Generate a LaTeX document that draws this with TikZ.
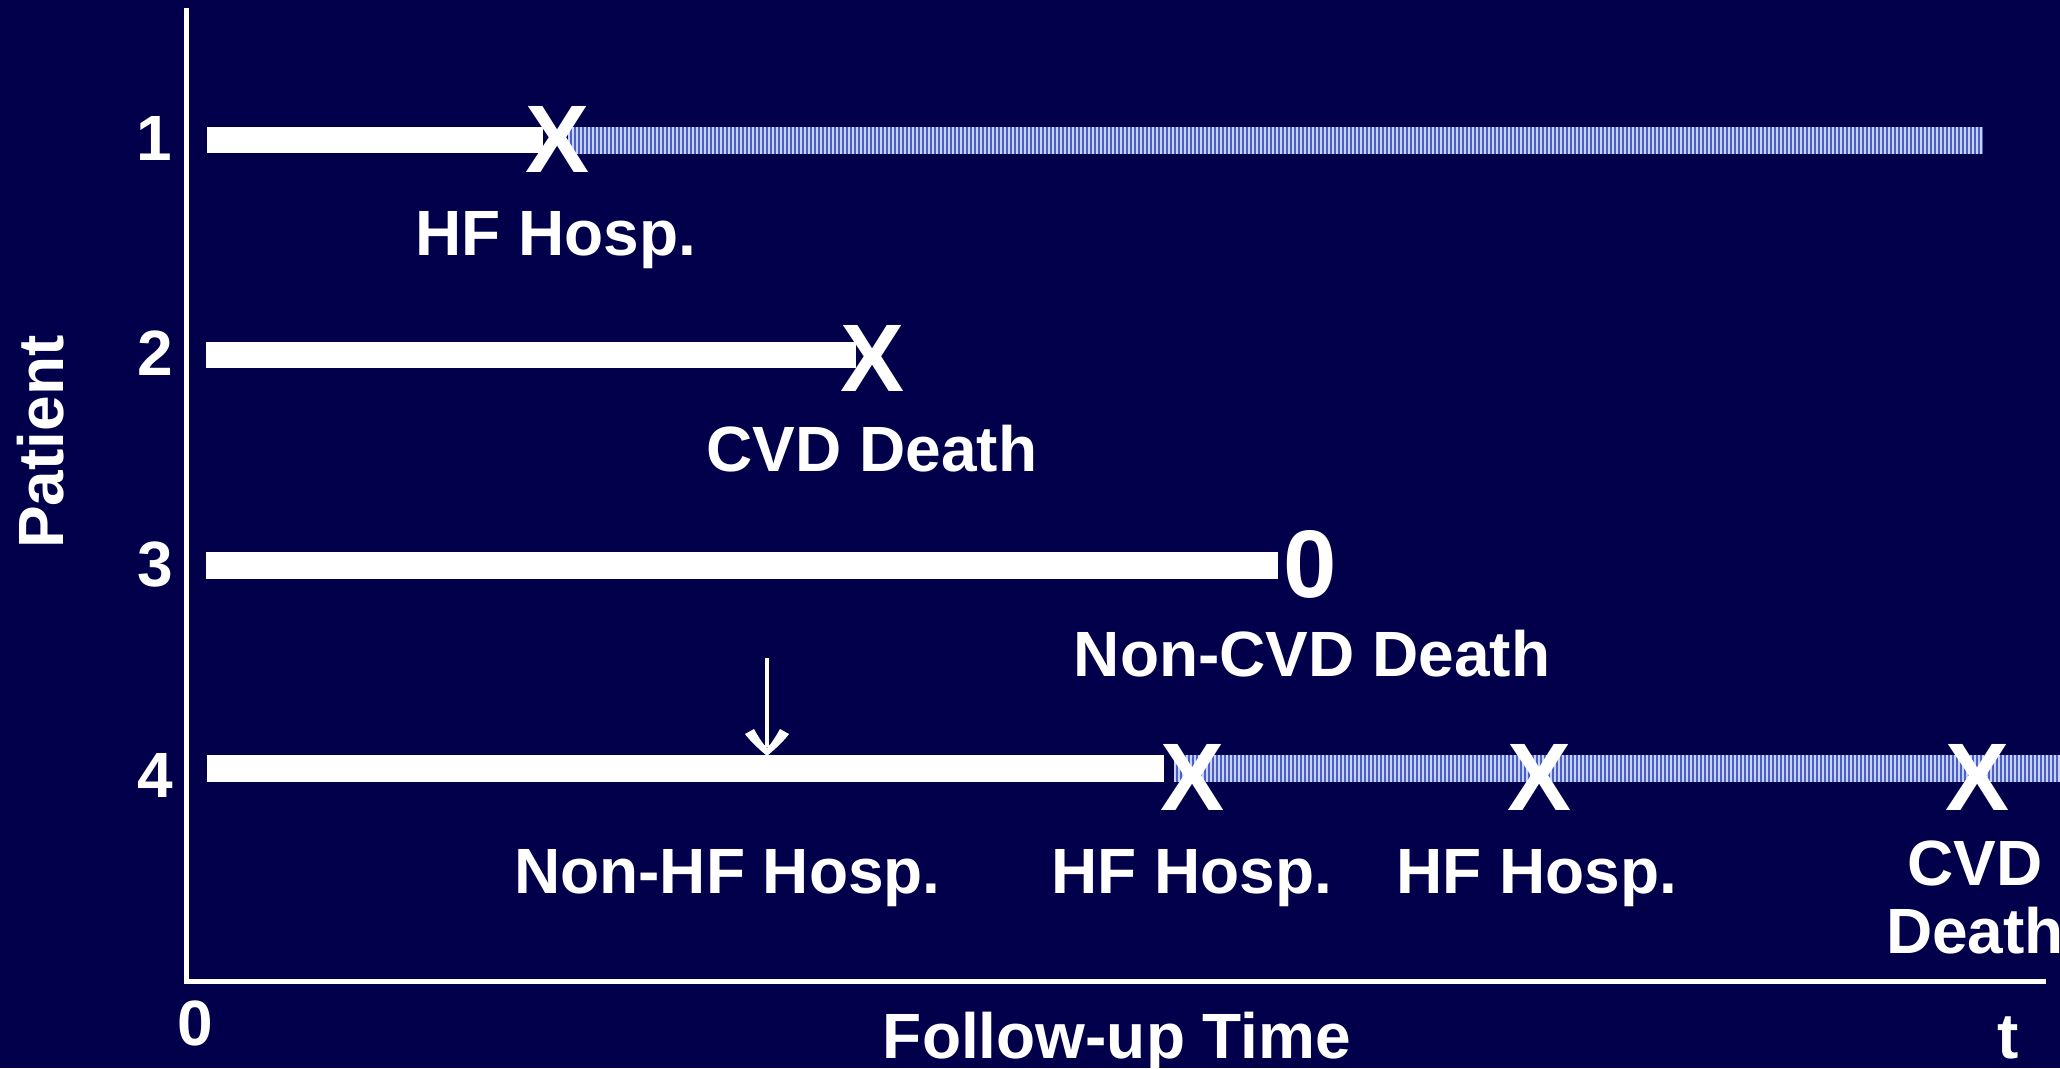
\documentclass[tikz,border=0pt]{standalone}
\usepackage{fontspec}
\setmainfont{Liberation Sans}
\definecolor{bgnavy}{RGB}{2,0,74}
\definecolor{hatchdark}{RGB}{74,96,198}
\definecolor{hatchlight}{RGB}{200,210,244}
\tikzset{
  lbl/.style={text=white, inner sep=0pt, anchor=base, font=\fontsize{64}{68}\selectfont\bfseries},
  evt/.style={text=white, inner sep=0pt, anchor=center, font=\fontsize{96}{100}\selectfont\bfseries},
  bar/.style={fill=white, draw=none},
  axisline/.style={draw=white, line width=5pt},
}
\begin{document}
\begin{tikzpicture}[x=1pt, y=-1pt]
\fill[bgnavy] (0,0) rectangle (2060,1068);
\useasboundingbox (0,0) rectangle (2060,1068);

% axes
\coordinate (ytop) at (186.5,8);
\coordinate (orig) at (186.5,981);
\coordinate (xend) at (2046,981);
\draw[axisline] (ytop) -- (orig) -- (xend);

% axis labels
\node[lbl, rotate=90] (patient) at (63,442) {Patient};
\node[lbl, anchor=base east] (p1) at (172,160) {1};
\node[lbl, anchor=base east] (p2) at (173,375) {2};
\node[lbl, anchor=base east] (p3) at (173,586) {3};
\node[lbl, anchor=base east] (p4) at (173,797) {4};
\node[lbl] (zero) at (195,1045) {0};
\node[lbl] (fut) at (1117,1058) {Follow-up Time};
\node[lbl] (tlab) at (2008,1058) {t};

% hatched segments
\fill[hatchdark] (568,127) rectangle (1983,154);
\foreach \x in {568,572,...,1980} {\fill[hatchlight] (\x,127) rectangle ++(2,27);}
\fill[hatchdark] (1174,755) rectangle (2060,782);
\foreach \x in {1174,1178,...,2058} {\fill[hatchlight] (\x,755) rectangle ++(2,27);}

% solid bars
\fill[bar] (207,127) rectangle (543,153);
\fill[bar] (206,342) rectangle (856,368);
\fill[bar] (206,552) rectangle (1278,579);
\fill[bar] (207,755) rectangle (1164,782);

% event marks
\node[evt] (x1) at (558,139) {X};
\node[evt] (x2) at (873,358) {X};
\node[evt] (o3) at (1310,564.5) {0};
\node[evt] (x4a) at (1192,777) {X};
\node[evt] (x4b) at (1539,777) {X};
\node[evt] (x4c) at (1977,777) {X};

% event labels
\node[lbl] (l1) at (556,255) {HF Hosp.};
\node[lbl] (l2) at (872,471) {CVD Death};
\node[lbl] (l3) at (1312,676) {Non-CVD Death};
\node[lbl] (l4n) at (727.5,893) {Non-HF Hosp.};
\node[lbl] (l4a) at (1192,893) {HF Hosp.};
\node[lbl] (l4b) at (1537,893) {HF Hosp.};
\node[lbl] (l4c1) at (1975,885) {CVD};
\node[lbl] (l4c2) at (1975,953) {Death};

% arrow to non-HF hospitalisation
\coordinate (arrtop) at (767,658);
\coordinate (arrtip) at (767,755);
\draw[white, line width=4pt] (arrtop) -- ([yshift=8pt]arrtip);
\begin{scope}[shift={(arrtip)}]
\fill[white] (0,1) .. controls (-8,-6) and (-16,-13) .. (-22,-21)
  -- (-13,-26) .. controls (-8,-17) and (-4,-11) .. (0,-7)
  .. controls (4,-11) and (8,-17) .. (13,-26)
  -- (22,-21) .. controls (16,-13) and (8,-6) .. (0,1) -- cycle;
\end{scope}
\end{tikzpicture}
\end{document}
